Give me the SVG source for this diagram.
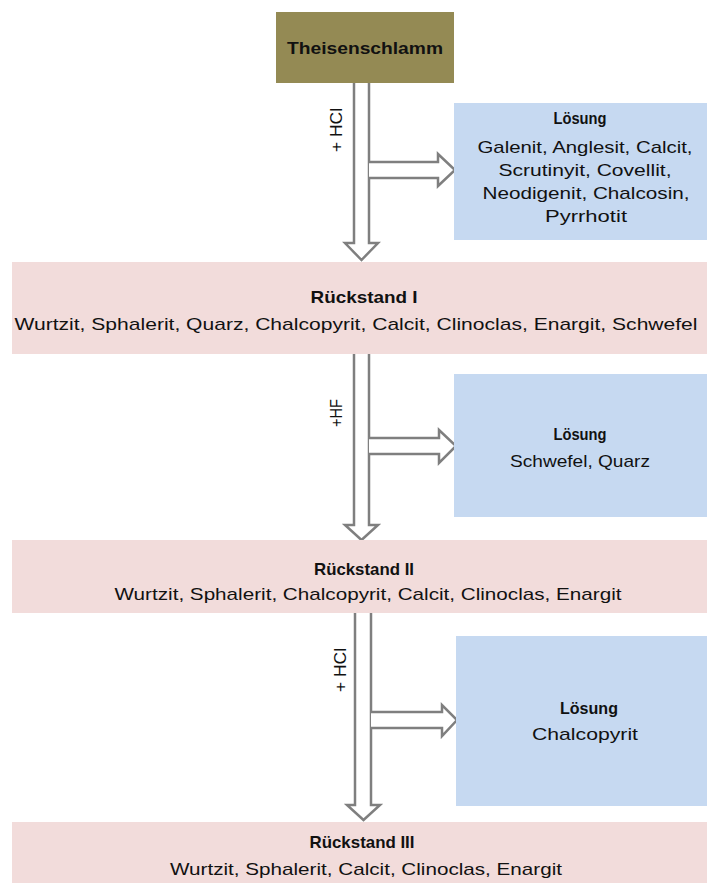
<svg xmlns="http://www.w3.org/2000/svg" width="707" height="883" viewBox="0 0 707 883">
  <style>
    .start { fill: #948a54; }
    .sol { fill: #c6d9f1; }
    .res { fill: #f2dcdb; }
    .t { font-family: "Liberation Sans", Arial, sans-serif; font-size: 17px; fill: #111; text-anchor: middle; }
    .b { font-weight: bold; }
    .lbl { font-family: "Liberation Sans", Arial, sans-serif; font-size: 16px; fill: #111; text-anchor: middle; }
    .arrow { fill: #ffffff; stroke: #7f7f7f; stroke-width: 2.5; stroke-linejoin: miter; }
  </style>
  <rect width="707" height="883" fill="#ffffff"/>

  <!-- connectors: block arrows -->
  <g id="connectors">
    <path class="arrow" d="M354,83 L354,243 L345,243 L361.5,260 L378,243 L369,243 L369,83"/>
    <path class="arrow" d="M369,162 L438,162 L438,154 L455,170 L438,186 L438,178 L369,178"/>
    <text class="lbl" transform="translate(342,130) rotate(-90)" textLength="44" lengthAdjust="spacingAndGlyphs">+ HCl</text>

    <path class="arrow" d="M354,354 L354,525 L345,525 L361.5,540 L378,525 L369,525 L369,354"/>
    <path class="arrow" d="M369,438 L439,438 L439,430 L456,446 L439,463 L439,454 L369,454"/>
    <text class="lbl" transform="translate(342,413) rotate(-90)" textLength="28" lengthAdjust="spacingAndGlyphs">+HF</text>

    <path class="arrow" d="M355,613 L355,805 L347,805 L363.5,820 L380,805 L371,805 L371,613"/>
    <path class="arrow" d="M371,712 L442,712 L442,705 L457,720 L442,736 L442,728 L371,728"/>
    <text class="lbl" transform="translate(346,670) rotate(-90)" textLength="44" lengthAdjust="spacingAndGlyphs">+ HCl</text>
  </g>

  <g id="theisenschlamm">
    <rect class="start" x="276" y="12" width="178" height="71"/>
    <text class="t b" x="365" y="54" textLength="156" lengthAdjust="spacingAndGlyphs">Theisenschlamm</text>
  </g>

  <g id="loesung1">
    <rect class="sol" x="454" y="103" width="253" height="137"/>
    <text class="t b" x="580" y="124" textLength="53" lengthAdjust="spacingAndGlyphs">Lösung</text>
    <text class="t" x="585" y="153" textLength="215" lengthAdjust="spacingAndGlyphs">Galenit, Anglesit, Calcit,</text>
    <text class="t" x="585" y="176" textLength="173" lengthAdjust="spacingAndGlyphs">Scrutinyit, Covellit,</text>
    <text class="t" x="586" y="199" textLength="207" lengthAdjust="spacingAndGlyphs">Neodigenit, Chalcosin,</text>
    <text class="t" x="586" y="222" textLength="82" lengthAdjust="spacingAndGlyphs">Pyrrhotit</text>
  </g>

  <g id="rueckstand1">
    <rect class="res" x="12" y="262" width="695" height="92"/>
    <text class="t b" x="364" y="303" textLength="107" lengthAdjust="spacingAndGlyphs">Rückstand I</text>
    <text class="t" x="356" y="330" textLength="683" lengthAdjust="spacingAndGlyphs">Wurtzit, Sphalerit, Quarz, Chalcopyrit, Calcit, Clinoclas, Enargit, Schwefel</text>
  </g>

  <g id="loesung2">
    <rect class="sol" x="454" y="374" width="253" height="143"/>
    <text class="t b" x="580" y="440" textLength="53" lengthAdjust="spacingAndGlyphs">Lösung</text>
    <text class="t" x="580" y="467" textLength="140" lengthAdjust="spacingAndGlyphs">Schwefel, Quarz</text>
  </g>

  <g id="rueckstand2">
    <rect class="res" x="12" y="540" width="695" height="73"/>
    <text class="t b" x="364" y="575" textLength="100" lengthAdjust="spacingAndGlyphs">Rückstand II</text>
    <text class="t" x="368" y="600" textLength="507" lengthAdjust="spacingAndGlyphs">Wurtzit, Sphalerit, Chalcopyrit, Calcit, Clinoclas, Enargit</text>
  </g>

  <g id="loesung3">
    <rect class="sol" x="456" y="636" width="251" height="170"/>
    <text class="t b" x="589" y="714" textLength="58" lengthAdjust="spacingAndGlyphs">Lösung</text>
    <text class="t" x="585" y="740" textLength="106" lengthAdjust="spacingAndGlyphs">Chalcopyrit</text>
  </g>

  <g id="rueckstand3">
    <rect class="res" x="12" y="822" width="695" height="61"/>
    <text class="t b" x="362" y="848" textLength="105" lengthAdjust="spacingAndGlyphs">Rückstand III</text>
    <text class="t" x="366" y="875" textLength="392" lengthAdjust="spacingAndGlyphs">Wurtzit, Sphalerit, Calcit, Clinoclas, Enargit</text>
  </g>
</svg>
